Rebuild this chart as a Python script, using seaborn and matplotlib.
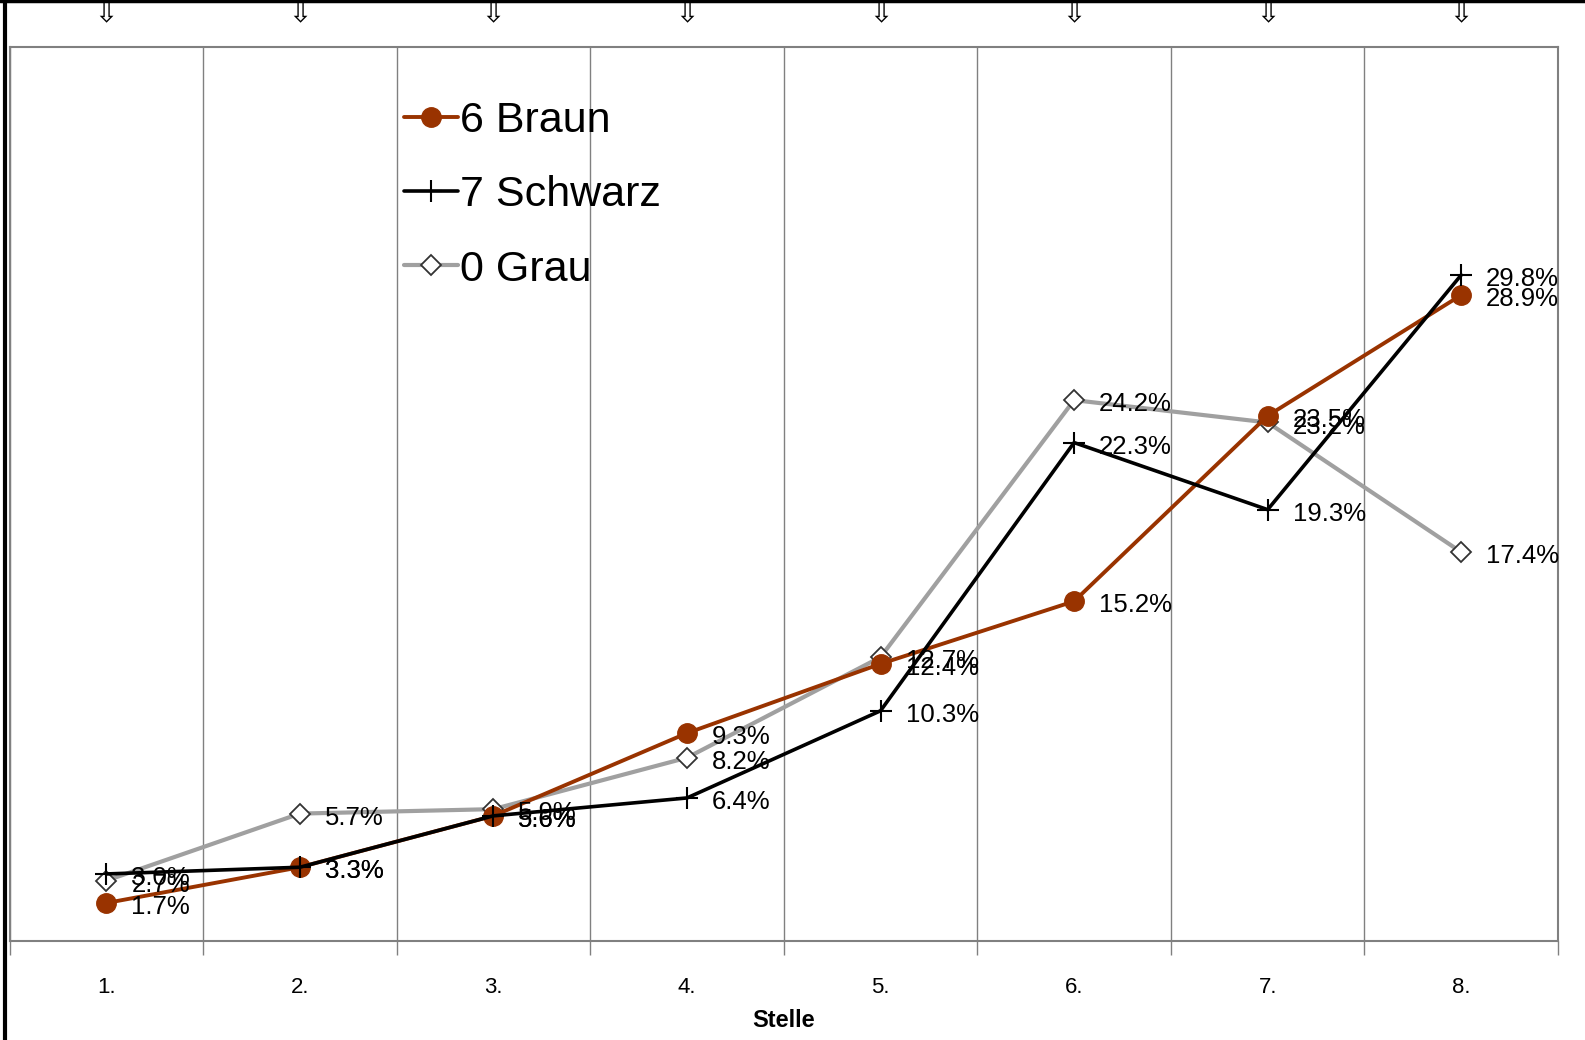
import matplotlib
matplotlib.use("Agg")
import matplotlib.pyplot as plt
import matplotlib.transforms as mtransforms
from matplotlib.lines import Line2D
import seaborn as sns
import pandas as pd

categories = ["1.", "2.", "3.", "4.", "5.", "6.", "7.", "8."]
braun = [1.7, 3.3, 5.6, 9.3, 12.4, 15.2, 23.5, 28.9]
schwarz = [3.0, 3.3, 5.6, 6.4, 10.3, 22.3, 19.3, 29.8]
grau = [2.7, 5.7, 5.9, 8.2, 12.7, 24.2, 23.2, 17.4]
series_names = ["6 Braun", "7 Schwarz", "0 Grau"]
x_title = "Stelle"

sns.set_theme(style="white")
plt.rcParams['font.family'] = ['Liberation Sans', 'DejaVu Sans']
plt.rcParams['text.color'] = 'black'
plt.rcParams['xtick.color'] = 'black'
plt.rcParams['axes.labelcolor'] = 'black'

fig = plt.figure(figsize=(15.85, 10.4), dpi=100)
ax = fig.add_axes([9.5/1585, 99/1040, 1548.5/1585, 894/1040])

pos = list(range(1, len(categories) + 1))
styles = [
    dict(color="#993300", marker="o", markersize=14, markerfacecolor="#993300",
         markeredgecolor="#993300", linewidth=2.8, zorder=3),
    dict(color="#000000", marker="+", markersize=16, markeredgewidth=1.5,
         linewidth=2.6, zorder=4),
    dict(color="#A0A0A0", marker="D", markersize=10, markerfacecolor="white",
         markeredgecolor="#333333", markeredgewidth=1.3, linewidth=3.0, zorder=2),
]
data = [braun, schwarz, grau]
handles = []
for name, vals, st in zip(series_names, data, styles):
    df = pd.DataFrame({"x": pos, "y": vals})
    sns.lineplot(data=df, x="x", y="y", ax=ax, color=st["color"], linewidth=st["linewidth"],
                 marker=st["marker"], markersize=st["markersize"],
                 markerfacecolor=st.get("markerfacecolor", st["color"]),
                 markeredgecolor=st.get("markeredgecolor", st["color"]),
                 markeredgewidth=st.get("markeredgewidth", 1.0),
                 zorder=st["zorder"], legend=False)
    for xi, yi in zip(pos, vals):
        ax.annotate(f"{yi:.1f}%", (xi, yi), xytext=(18, -3), textcoords="offset points",
                    ha="left", va="center", fontsize=18.5, color="black", zorder=6)
    handles.append(Line2D([0], [0], color=st["color"], linewidth=st["linewidth"],
                          marker=st["marker"], markersize=st["markersize"],
                          markerfacecolor=st.get("markerfacecolor", st["color"]),
                          markeredgecolor=st.get("markeredgecolor", st["color"]),
                          markeredgewidth=st.get("markeredgewidth", 1.0)))

ax.set_xlim(0.5, len(categories) + 0.5)
ax.set_ylim(0, 40)
ax.set_yticks([])
ax.set_xticks(pos)
ax.set_xticklabels(categories, fontsize=16, color="black")
ax.set_xticks([p + 0.5 for p in [0] + pos], minor=True)
ax.tick_params(axis="x", which="major", length=0, pad=26)
ax.tick_params(axis="x", which="minor", length=10, width=1, color="#808080", direction="out", bottom=True)
ax.xaxis.grid(True, which="minor", color="#808080", linewidth=1)
ax.xaxis.grid(False, which="major")
ax.set_xlabel(x_title, fontsize=17, fontweight="bold", labelpad=8, color="black")
ax.set_ylabel("")
for s in ax.spines.values():
    s.set_color("#808080")
    s.set_linewidth(1.5)

leg = ax.legend(handles, series_names, loc="upper left", bbox_to_anchor=(0.255, 0.94),
                frameon=False, fontsize=31, handlelength=1.25, handletextpad=0.05,
                labelspacing=0.8, borderaxespad=0, borderpad=0)
for t in leg.get_texts():
    t.set_color("black")

trans = mtransforms.blended_transform_factory(ax.transData, fig.transFigure)
for p in pos:
    ax.text(p, 1 - 14/1040, "⇩", transform=trans, ha="center", va="center", fontsize=20,
            family=["DejaVu Sans"], clip_on=False, color="black")

# outer frame lines
fig.add_artist(Line2D([4.5/1585, 4.5/1585], [0, 1], transform=fig.transFigure, color="black", linewidth=3))
fig.add_artist(Line2D([0, 1], [1 - 1/1040, 1 - 1/1040], transform=fig.transFigure, color="black", linewidth=2.5))

fig.savefig("out.png", dpi=100)
